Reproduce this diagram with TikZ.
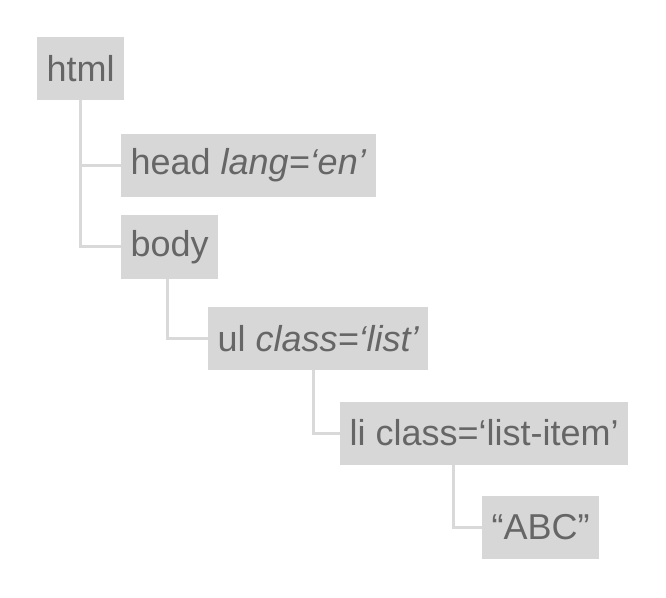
\documentclass[tikz,border=0pt]{standalone}
\usepackage{fontspec}
\setmainfont{Liberation Sans}
\usepackage{tikz}
\usetikzlibrary{positioning}
\definecolor{boxgray}{HTML}{D7D7D7}
\definecolor{txtgray}{HTML}{666666}
\definecolor{linegray}{HTML}{D9D9D9}

\begin{document}
\begin{tikzpicture}[x=0.75pt, y=-0.75pt,
  tag/.style={fill=boxgray, text=txtgray, anchor=west, minimum height=47.25pt,
    inner xsep=7pt, font=\fontsize{27}{32}\selectfont},
  link/.style={draw=linegray, line width=2.25pt}]
  \useasboundingbox (0,0) rectangle (666,598);
  % the tags
  \node[tag] (html) at (37,68.5) {html};
  \node[tag] (head) at (121,165.5) {head \textit{lang=‘en’}};
  \node[tag] (body) at (121,247) {body};
  \node[tag] (ul) at (208,338.5) {ul \textit{class=‘list’}};
  \node[tag] (li) at (340,433) {li class=‘list-item’};
  \node[tag] (abc) at (482,527.5) {“ABC”};
  % trunks of the branches
  \coordinate (t1) at (80,0);
  \coordinate (t2) at (167,0);
  \coordinate (t3) at (313,0);
  \coordinate (t4) at (453,0);
  \draw[link] (html.south -| t1) |- (head.west);
  \draw[link] (html.south -| t1) |- (body.west);
  \draw[link] (body.south -| t2) |- (ul.west);
  \draw[link] (ul.south -| t3) |- (li.west);
  \draw[link] (li.south -| t4) |- (abc.west);
\end{tikzpicture}
\end{document}
